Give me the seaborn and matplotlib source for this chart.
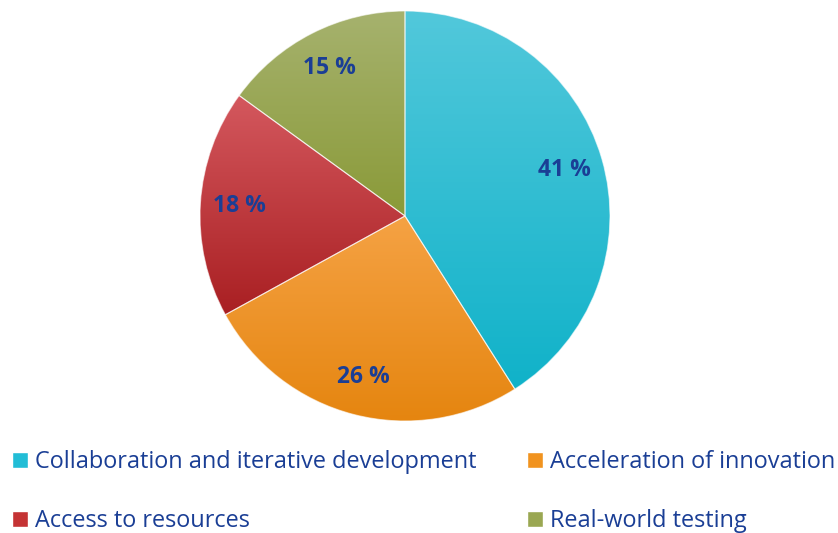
import matplotlib
matplotlib.use("Agg")
import matplotlib.pyplot as plt
import matplotlib.patches as mpatches
import numpy as np
import seaborn as sns
from matplotlib.colors import LinearSegmentedColormap

categories = [
    "Collaboration and iterative development",
    "Acceleration of innovation",
    "Access to resources",
    "Real-world testing",
]
shares = [41, 26, 18, 15]
pct_labels = ["41 %", "26 %", "18 %", "15 %"]
top_colors = ["#52C8DB", "#F5A244", "#D4585E", "#A6B26E"]
bottom_colors = ["#10B2C9", "#E5850F", "#A91F22", "#8A9A38"]
mid_colors = ["#22BDD6", "#F1931F", "#C43334", "#9AA752"]
text_color = "#1A3E95"

sns.set_theme(style="white")
plt.rcParams["font.family"] = ["Open Sans", "DejaVu Sans"]

fig = plt.figure(figsize=(8.38, 5.33), dpi=100)
W, H = 838, 533
cx, cy, r = 405, 216, 205
ax = fig.add_axes([(cx - r) / W, (H - cy - r) / H, 2 * r / W, 2 * r / H])

wedges, texts, autotexts = ax.pie(
    shares,
    startangle=90,
    counterclock=False,
    colors=mid_colors,
    autopct=lambda p: "",
    pctdistance=0.81,
    wedgeprops=dict(linewidth=0.8, edgecolor=(1, 1, 1, 0.6)),
)
ax.set_xlim(-1, 1)
ax.set_ylim(-1, 1)
ax.set_aspect("equal")
ax.axis("off")

# vertical gradient fill per slice, light at top, darker at bottom
for wedge, top, bot in zip(wedges, top_colors, bottom_colors):
    verts = wedge.get_path().vertices
    x0, x1 = verts[:, 0].min(), verts[:, 0].max()
    y0, y1 = verts[:, 1].min(), verts[:, 1].max()
    cmap = LinearSegmentedColormap.from_list("g", [bot, top])
    grad = np.linspace(0, 1, 256).reshape(-1, 1)
    im = ax.imshow(grad, cmap=cmap, extent=[x0, x1, y0, y1], origin="lower",
                   aspect="auto", zorder=wedge.get_zorder() + 0.1)
    im.set_clip_path(wedge)
    wedge.set_facecolor("none")
    wedge.set_zorder(wedge.get_zorder() + 0.2)

for t, lab in zip(autotexts, pct_labels):
    t.set_text(lab)
    t.set_color(text_color)
    t.set_fontsize(16.5)
    t.set_fontweight("bold")
    t.set_zorder(5)

left_handles = [mpatches.Patch(facecolor=mid_colors[0], label=categories[0]),
                mpatches.Patch(facecolor=mid_colors[2], label=categories[2])]
right_handles = [mpatches.Patch(facecolor=mid_colors[1], label=categories[1]),
                 mpatches.Patch(facecolor=mid_colors[3], label=categories[3])]

for handles, x in [(left_handles, 12 / W), (right_handles, 527 / W)]:
    leg = fig.legend(handles=handles, loc="upper left", bbox_to_anchor=(x, 1 - 450 / H),
                     frameon=False, fontsize=16.9, handlelength=0.68, handleheight=0.68,
                     handletextpad=0.28, labelspacing=1.5, borderpad=0, borderaxespad=0)
    for txt in leg.get_texts():
        txt.set_color(text_color)

fig.savefig("out.png", dpi=100)
